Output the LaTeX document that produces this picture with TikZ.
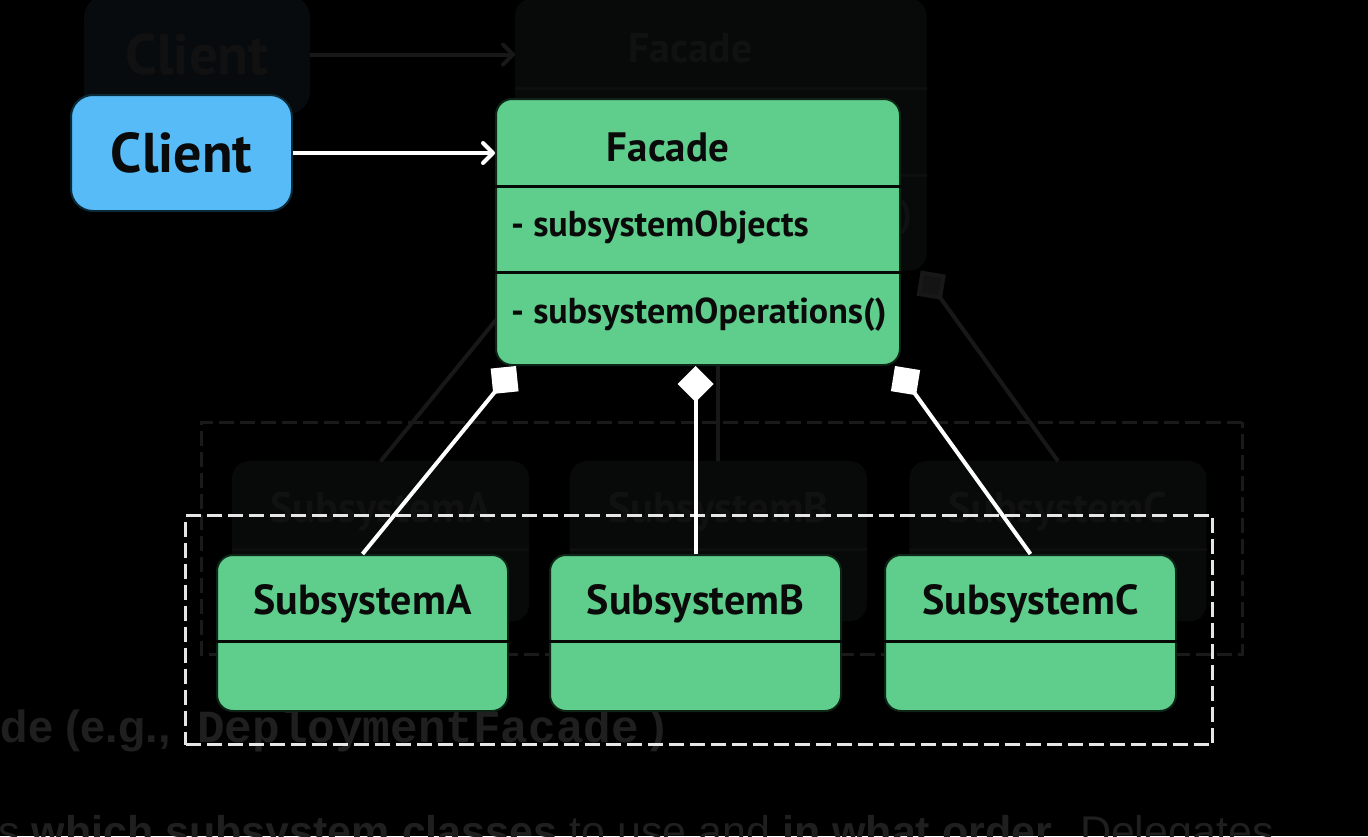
\documentclass[tikz,border=0pt]{standalone}
\usepackage{fontspec}
\setmainfont{PT Sans}
\newfontfamily\notefamily{Liberation Sans}
\newfontfamily\codefamily{Liberation Mono}
\usetikzlibrary{arrows.meta,calc}

% palette
\definecolor{pageblack}{HTML}{000000}
\definecolor{noteink}{HTML}{1F1F1F}

% type sizes (1pt = 1px)
\newcommand{\clientfont}{\bfseries\fontsize{56}{60}\selectfont}
\newcommand{\facadefont}{\bfseries\fontsize{41}{44}\selectfont}
\newcommand{\memberfont}{\bfseries\fontsize{36}{40}\selectfont}
\newcommand{\subfont}{\bfseries\fontsize{42}{46}\selectfont}

\tikzset{
  clientbox/.style={draw=cClientEdge, line width=2pt, fill=cClient, rounded corners=22pt, inner sep=0pt},
  classbox/.style={draw=cClassEdge, line width=2pt, fill=cClass, rounded corners=16pt, inner sep=0pt},
  divider/.style={draw=cDivider, line width=3pt},
  nametext/.style={text=cText, inner sep=0pt},
  frame/.style={draw=cFrame, line width=3pt, dash pattern=on 15pt off 6pt, inner sep=0pt},
  uses/.style={draw=cLink, line width=4pt, -{Straight Barb[length=10pt,width=20pt,round]}},
  owns/.style={draw=cLink, line width=4pt, -{Diamond[length=36pt,width=36pt,fill=cMark]}},
  notetext/.style={text=noteink, inner sep=0pt, font=\notefamily\fontsize{43}{48}\selectfont},
}

% the whole class diagram; #1 prefixes every node name
\newcommand{\facadediagram}[1]{%
  % client
  \node[clientbox, minimum width=221pt, minimum height=116pt, anchor=north west] (#1client) at (70,94) {};
  \node[nametext, font=\clientfont] (#1clienttxt) at (#1client.center) {Client};
  % facade class with its three compartments
  \node[classbox, minimum width=404pt, minimum height=266pt, anchor=north west] (#1fac) at (495,98) {};
  \draw[divider] ($(#1fac.north west)+(0,88)$) -- ($(#1fac.north east)+(0,88)$);
  \draw[divider] ($(#1fac.north west)+(0,174)$) -- ($(#1fac.north east)+(0,174)$);
  \node[nametext, font=\facadefont] (#1factxt) at ($(#1fac.north west)+(173,49)$) {Facade};
  \node[nametext, font=\memberfont, anchor=base west] (#1attr) at ($(#1fac.north west)+(16,138)$) {- subsystemObjects};
  \node[nametext, font=\memberfont, anchor=base west] (#1oper) at ($(#1fac.north west)+(16,225)$) {- subsystemOperations()};
  % subsystem classes
  \foreach \n/\x in {A/216, B/549, C/884}{
    \node[classbox, minimum width=291pt, minimum height=156pt, anchor=north west] (#1sub\n) at (\x,554) {};
    \draw[divider] ($(#1sub\n.north west)+(0,87)$) -- ($(#1sub\n.north east)+(0,87)$);
    \node[nametext, font=\subfont, anchor=base] (#1sub\n-txt) at ($(#1sub\n.north)+(0,60)$) {Subsystem\n};
  }
  % subsystem package frame
  \node[frame, minimum width=1027pt, minimum height=229pt, anchor=north west] (#1pkg) at (184,514) {};
  % connectors
  \draw[uses] (#1client.east) -- (#1client.east -| #1fac.west);
  \draw[owns] (#1subA.north) -- ($(#1fac.south west)+(21,0)$);
  \draw[owns] (#1subB.north) -- (#1subB.north |- #1fac.south);
  \draw[owns] (#1subC.north) -- ($(#1fac.south east)+(-6,0)$);
}

\begin{document}
\begin{tikzpicture}[x=1pt, y=-1pt]
  \useasboundingbox (0,0) rectangle (1368,836);
  \fill[pageblack] (0,0) rectangle (1368,836);

  % page text behind the diagram
  \node[notetext, anchor=base east, font=\notefamily\bfseries\fontsize{45}{48}\selectfont] (note1) at (171,742) {de (e.g.,};
  \node[notetext, anchor=base west, font=\codefamily\bfseries\fontsize{46}{48}\selectfont] (note2) at (197,742) {DeploymentFacade};
  \node[notetext, anchor=base west, font=\notefamily\bfseries\fontsize{45}{48}\selectfont] (note3) at (650,742) {)};
  \node[notetext, anchor=base west] (note4) at (-2,846) {s \textbf{which subsystem classes} to use and \textbf{in what order}. Delegates};

  % faded duplicate of the diagram
  \begin{scope}[shift={(13,-100.6)}, scale=1.014, transform shape]
    \definecolor{cClient}{HTML}{070B0D}
    \definecolor{cClientEdge}{HTML}{070B0D}
    \definecolor{cClass}{HTML}{070A08}
    \definecolor{cClassEdge}{HTML}{070A08}
    \definecolor{cDivider}{HTML}{0E0E0E}
    \definecolor{cText}{HTML}{111111}
    \definecolor{cFrame}{HTML}{1A1A1A}
    \definecolor{cLink}{HTML}{181818}
    \definecolor{cMark}{HTML}{141414}
    \facadediagram{g}
  \end{scope}

  % diagram
  \definecolor{cClient}{HTML}{57BBF8}
  \definecolor{cClientEdge}{HTML}{0B2A38}
  \definecolor{cClass}{HTML}{5FCD8B}
  \definecolor{cClassEdge}{HTML}{0D2417}
  \definecolor{cDivider}{HTML}{050A07}
  \definecolor{cText}{HTML}{0A0A0A}
  \definecolor{cFrame}{HTML}{E6E6E6}
  \definecolor{cLink}{HTML}{FFFFFF}
  \definecolor{cMark}{HTML}{FFFFFF}
  \facadediagram{m}
\end{tikzpicture}
\end{document}
